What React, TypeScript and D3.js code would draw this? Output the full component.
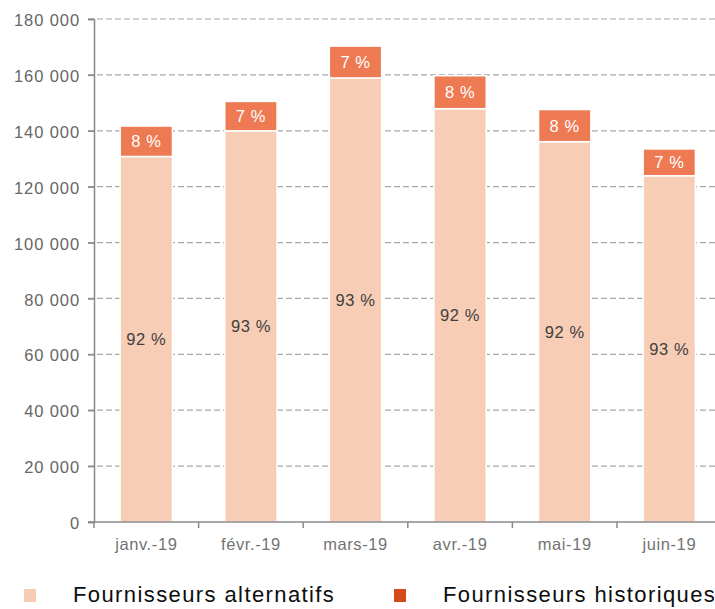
import React, { useEffect, useRef } from 'react';
import * as d3 from 'd3';

const months = ['janv.-19', 'févr.-19', 'mars-19', 'avr.-19', 'mai-19', 'juin-19'];
const alternatifs = [130800, 140000, 158900, 147900, 136100, 123900];
const historiques = [10900, 10500, 11400, 11800, 11500, 9600];
const altLabels = ['92 %', '93 %', '93 %', '92 %', '92 %', '93 %'];
const histLabels = ['8 %', '7 %', '7 %', '8 %', '8 %', '7 %'];
const yTicks = [0, 20000, 40000, 60000, 80000, 100000, 120000, 140000, 160000, 180000];
const seriesNames = ['Fournisseurs alternatifs', 'Fournisseurs historiques'];

const FONT = '"Liberation Sans", Arial, sans-serif';

const App = () => {
  const ref = useRef<SVGSVGElement>(null);

  useEffect(() => {
    drawChart();
  }, []);

  const drawChart = () => {
    const svg = d3.select(ref.current);
    svg.selectAll('*').remove();

    const width = 715;
    const height = 609;
    const margin = { top: 19, left: 94, bottom: 87 };

    const yScale = d3
      .scaleLinear()
      .domain([0, 180000])
      .range([height - margin.bottom, margin.top]);
    const xScale = d3
      .scaleBand()
      .domain(months)
      .range([margin.left, margin.left + 6 * 104.6])
      .paddingInner(0.5)
      .paddingOuter(0.25);

    const rows = months.map((m, i) => ({ month: m, alt: alternatifs[i], hist: historiques[i] }));
    const stacked = d3.stack<any>().keys(['alt', 'hist'])(rows);

    // grid lines
    svg
      .append('g')
      .selectAll('line')
      .data(yTicks.slice(1))
      .join('line')
      .attr('x1', margin.left - 6)
      .attr('x2', width)
      .attr('y1', d => yScale(d))
      .attr('y2', d => yScale(d))
      .attr('stroke', '#a6a6a6')
      .attr('stroke-width', 1.2)
      .attr('stroke-dasharray', '6 3');

    // bars
    const colors = ['#f8cdb6', '#ed7a53'];
    stacked.forEach((layer, k) => {
      svg
        .append('g')
        .selectAll('rect')
        .data(layer)
        .join('rect')
        .attr('x', (d: any) => xScale(d.data.month)!)
        .attr('width', xScale.bandwidth())
        .attr('y', d => yScale(d[1]))
        .attr('height', d => yScale(d[0]) - yScale(d[1]))
        .attr('fill', colors[k])
        .attr('stroke', '#fff')
        .attr('stroke-width', 1.5);
    });

    // value labels
    const labelSets = [altLabels, histLabels];
    const labelColors = ['#404040', '#ffffff'];
    stacked.forEach((layer, k) => {
      svg
        .append('g')
        .selectAll('text')
        .data(layer)
        .join('text')
        .attr('x', (d: any) => xScale(d.data.month)! + xScale.bandwidth() / 2)
        .attr('y', d => yScale((d[0] + d[1]) / 2) + 6)
        .attr('text-anchor', 'middle')
        .attr('font-family', FONT)
        .attr('font-size', 16.5)
        .attr('letter-spacing', 0.6)
        .attr('fill', labelColors[k])
        .text((d, i) => labelSets[k][i]);
    });

    // y axis
    const yAxis = svg
      .append('g')
      .attr('transform', `translate(${margin.left},0)`)
      .call(d3.axisLeft(yScale).tickValues(yTicks).tickSize(6).tickPadding(8).tickFormat(d => d3.format(',')(d as number).replace(/,/g, ' ')));
    yAxis.select('.domain').attr('stroke', '#888').attr('stroke-width', 1.5);
    yAxis.selectAll('.tick line').attr('stroke', '#888').attr('stroke-width', 1.5);
    yAxis
      .selectAll('.tick text')
      .attr('font-family', FONT)
      .attr('font-size', 16.5)
      .attr('letter-spacing', 0.9)
      .attr('fill', '#666')
      .attr('dy', '0.4em');

    // x axis
    const xTicksScale = d3.scaleLinear().domain([0, 6]).range([margin.left, margin.left + 6 * 104.6]);
    const xAxis = svg.append('g').attr('transform', `translate(0,${yScale(0)})`);
    xAxis
      .append('line')
      .attr('x1', margin.left - 6)
      .attr('x2', width)
      .attr('stroke', '#888')
      .attr('stroke-width', 1.5);
    xAxis
      .selectAll('.tk')
      .data(d3.range(6))
      .join('line')
      .attr('class', 'tk')
      .attr('x1', d => xTicksScale(d))
      .attr('x2', d => xTicksScale(d))
      .attr('y1', 0)
      .attr('y2', 6)
      .attr('stroke', '#888')
      .attr('stroke-width', 1.5);
    xAxis
      .selectAll('text')
      .data(months)
      .join('text')
      .attr('x', d => xScale(d)! + xScale.bandwidth() / 2)
      .attr('y', 28)
      .attr('text-anchor', 'middle')
      .attr('font-family', FONT)
      .attr('font-size', 16.5)
      .attr('letter-spacing', 0.6)
      .attr('fill', '#737373')
      .text(d => d);

    // legend
    const legendColors = ['#f8cbb5', '#d5481b'];
    const legendX = [24, 394];
    const legend = svg
      .append('g')
      .selectAll('g')
      .data(seriesNames)
      .join('g')
      .attr('transform', (d, i) => `translate(${legendX[i]},589)`);
    legend
      .append('rect')
      .attr('width', 12)
      .attr('height', 13)
      .attr('fill', (d, i) => legendColors[i]);
    legend
      .append('text')
      .attr('x', 49)
      .attr('y', 13)
      .attr('font-family', FONT)
      .attr('font-size', 22)
      .attr('letter-spacing', 1.4)
      .attr('fill', '#0d0d0d')
      .text(d => d);
  };

  return (
    <svg
      ref={ref}
      width={715}
      height={609}
      style={{ position: 'absolute', left: 0, top: 0, background: '#fff' }}
    />
  );
};

export default App;
